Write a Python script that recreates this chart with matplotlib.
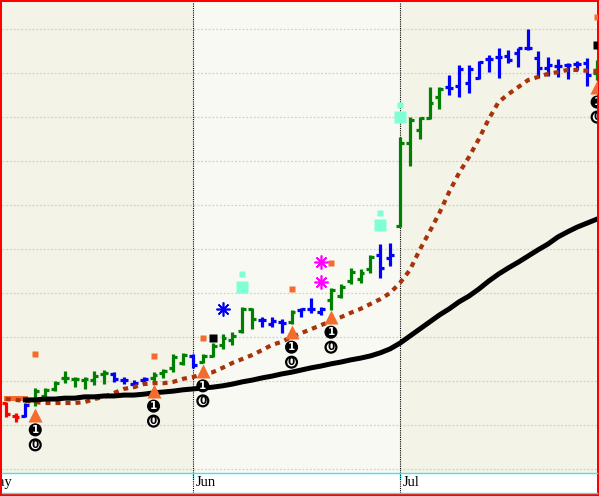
import numpy as np
import matplotlib.pyplot as plt

# daily OHLC bars, late May .. early July (price units, gridline every 1.0)
opens = [11.50, 11.20, 11.20, 11.57, 11.66, 11.82, 12.07, 12.05, 12.02, 12.02,
         12.16, 12.16, 12.02, 11.93, 12.02, 12.07, 12.18, 12.30, 12.41, 12.57,
         12.43, 12.57, 12.82, 12.93, 13.14, 13.64, 13.39, 13.30, 13.34, 13.34,
         13.61, 13.64, 13.57, 13.84, 13.93, 14.27, 14.32, 14.55, 14.86, 14.80,
         15.52, 17.41, 17.70, 17.98, 18.45, 18.68, 18.70, 18.77, 18.89, 19.32,
         19.36, 19.39, 19.45, 19.57, 19.34, 19.11, 19.16, 19.18, 19.20, 19.23,
         19.00]
highs = [11.52, 11.27, 11.50, 11.84, 11.84, 12.00, 12.23, 12.09, 12.09, 12.23,
         12.25, 12.20, 12.09, 12.02, 12.09, 12.20, 12.27, 12.61, 12.64, 12.61,
         12.61, 12.86, 13.07, 13.11, 13.68, 13.66, 13.45, 13.45, 13.41, 13.61,
         13.66, 13.89, 13.68, 14.11, 14.20, 14.57, 14.55, 14.86, 15.11, 15.14,
         17.55, 18.00, 18.00, 18.68, 18.68, 18.95, 19.18, 19.18, 19.27, 19.41,
         19.57, 19.52, 19.57, 20.00, 19.50, 19.36, 19.32, 19.23, 19.27, 19.34,
         19.30]
lows = [11.18, 11.07, 11.18, 11.43, 11.64, 11.77, 11.95, 11.86, 11.82, 11.91,
        11.93, 11.98, 11.93, 11.84, 11.93, 11.95, 12.07, 12.20, 12.36, 12.30,
        12.41, 12.55, 12.73, 12.82, 13.09, 13.18, 13.23, 13.23, 13.09, 13.30,
        13.45, 13.55, 13.50, 13.61, 13.89, 14.20, 14.23, 14.45, 14.34, 14.61,
        15.50, 16.89, 17.50, 17.95, 18.18, 18.50, 18.45, 18.55, 18.86, 19.02,
        18.89, 19.23, 19.14, 19.52, 18.89, 18.93, 18.91, 18.86, 19.07, 18.70,
        18.84]
closes = [11.25, 11.18, 11.45, 11.77, 11.80, 11.95, 12.07, 12.05, 12.05, 12.11,
          12.18, 12.05, 12.02, 11.95, 12.05, 12.14, 12.23, 12.55, 12.59, 12.36,
          12.57, 12.80, 12.98, 13.02, 13.64, 13.41, 13.39, 13.36, 13.32, 13.57,
          13.64, 13.64, 13.64, 14.07, 14.14, 14.48, 14.45, 14.82, 14.57, 14.86,
          17.41, 17.93, 17.98, 18.32, 18.64, 18.66, 19.09, 19.09, 19.25, 19.32,
          19.36, 19.30, 19.57, 19.57, 19.11, 19.18, 19.16, 19.18, 19.20, 18.95,
          19.18]
# impulse colour of each bar: r = down, g = up, b = neutral
impulse = list("rrb" "gggggggg" "bbbb" "gggg" "b" "gggggg" "bbb" "g" "bbb"
               "ggggg" "bb" "ggggg" "bbbbbbbbbbbbbbb" "g")

ema_fast = [11.59, 11.57, 11.55, 11.52, 11.50, 11.50, 11.50, 11.50, 11.52, 11.59,
            11.64, 11.73, 11.82, 11.86, 11.93, 11.95, 11.95, 11.98, 12.05, 12.09,
            12.16, 12.20, 12.30, 12.41, 12.50, 12.59, 12.70, 12.82, 12.89, 13.00,
            13.09, 13.18, 13.27, 13.36, 13.45, 13.55, 13.64, 13.75, 13.86, 14.00,
            14.23, 14.52, 14.98, 15.39, 15.82, 16.30, 16.73, 17.09, 17.50, 17.95,
            18.34, 18.52, 18.68, 18.84, 18.91, 18.98, 19.02, 19.07, 19.07, 19.05,
            19.05]
sma_start = 2
sma_slow = [11.57, 11.57, 11.59, 11.59, 11.61, 11.61, 11.64, 11.64, 11.66, 11.66,
            11.68, 11.68, 11.70, 11.73, 11.75, 11.77, 11.80, 11.82, 11.84, 11.86,
            11.89, 11.93, 11.98, 12.02, 12.07, 12.11, 12.16, 12.20, 12.25, 12.30,
            12.34, 12.39, 12.43, 12.48, 12.52, 12.57, 12.64, 12.73, 12.86, 13.02,
            13.18, 13.34, 13.50, 13.64, 13.80, 13.93, 14.09, 14.27, 14.43, 14.57,
            14.70, 14.84, 14.98, 15.11, 15.27, 15.39, 15.50, 15.59, 15.68]
stop_level = [11.61, 11.61, 11.61]

# signals
buy_bars = [3, 15, 20, 29, 33, 60]
buy_price = [11.23, 11.77, 12.23, 13.11, 13.45, 18.68]
tag_price = [12.61, 12.57, 12.98, 14.09, 14.68, 20.27]
block_bars = [21, 60]
block_price = [12.98, 19.64]
gap_bars = [24, 38, 40]
gap_small = [14.43, 15.82, 18.27]
gap_large = [14.14, 15.55, 18.00]
star_blue = ([22], [13.64])
star_pink = ([32, 32], [14.70, 14.25])

months = ['May', 'Jun', 'Jul']
month_starts = [-2.3, 19, 40]

W, H = 599, 496
fig = plt.figure(figsize=(W / 100, H / 100), dpi=100, facecolor='#ff0000')
ax = fig.add_axes([2 / W, 23 / H, 595 / W, 471 / H])
strip = fig.add_axes([2 / W, 3 / H, 595 / W, 20 / H])
xlim = (-0.375, 59.99)

x = np.arange(len(opens))
ax.set_facecolor('#f4f3e7')
for s in ax.spines.values():
    s.set_visible(False)
ax.set_xticks([])
ax.set_yticks([])
ax.set_xlim(xlim)
ax.set_ylim(9.909, 20.614)

ax.axvspan(month_starts[1], month_starts[2], color='#f9f9f4', lw=0, zorder=0)
for g in range(10, 21):
    ax.axhline(g, color='#d3d3c3', lw=0.9, ls=(0, (1.5, 1.5)), zorder=1)
for m in month_starts[1:]:
    ax.axvline(m, color='black', lw=0.8, ls=(0, (1, 1)), zorder=2)

cmap = {'r': '#ff0000', 'g': '#008000', 'b': '#0000ff'}
cols = [cmap[c] for c in impulse]
ax.vlines(x, lows, highs, colors=cols, lw=2.3, capstyle='butt', zorder=3)
ax.hlines(opens, x - 0.4, x, colors=cols, lw=2.3, capstyle='butt', zorder=3)
ax.hlines(closes, x, x + 0.4, colors=cols, lw=2.3, capstyle='butt', zorder=3)

ax.plot(range(len(stop_level)), stop_level, color='#f26d2d', lw=3.6, zorder=4)
ax.plot(x, ema_fast, color='#a8320a', lw=3, ls=(0, (1.2, 1.2)), zorder=4)
ax.plot(range(sma_start, sma_start + len(sma_slow)), sma_slow, color='black',
        lw=3.6, solid_capstyle='projecting', zorder=5)

ax.plot(buy_bars, buy_price, ls='none', marker='^', ms=10, color='#f26d2d',
        mec='none', zorder=6)
ax.plot(buy_bars, tag_price, ls='none', marker='s', ms=4.3, color='#f26d2d',
        mec='none', zorder=6)
ax.plot(block_bars, block_price, ls='none', marker='s', ms=5.8, color='black',
        mec='none', zorder=6)
ax.plot(gap_bars, gap_large, ls='none', marker='s', ms=8.6, color='#7fffd4',
        mec='none', zorder=6)
ax.plot(gap_bars, gap_small, ls='none', marker='s', ms=5, color='#7fffd4',
        mec='none', zorder=6)
ax.plot(*star_blue, ls='none', marker=(8, 2, 0), ms=10, mew=1.2, color='#0000ff', zorder=6)
ax.plot(*star_pink, ls='none', marker=(8, 2, 0), ms=10, mew=1.2, color='#ff00ff', zorder=6)

# circled "1" (filled) and "0" (ring) under each buy arrow
for b, p in zip(buy_bars, buy_price):
    for txt, dy, fc, tc in (('1', -10.8, 'black', 'white'), ('0', -21.6, 'white', 'black')):
        t = ax.annotate(txt, (b, p), xytext=(0, dy), textcoords='offset points',
                        ha='center', va='center', fontsize=7.5, fontweight='bold', color=tc,
                        bbox=dict(boxstyle='circle,pad=0.04', fc=fc, ec='black', lw=1.6),
                        annotation_clip=False, zorder=7)
        t.set_clip_on(True)
        t.set_clip_path(ax.patch)

# date strip
strip.set_facecolor('white')
for side in ('left', 'right'):
    strip.spines[side].set_visible(False)
for side in ('top', 'bottom'):
    strip.spines[side].set_color('#3de6ea')
    strip.spines[side].set_linewidth(1)
strip.set_yticks([])
strip.set_xticks(month_starts)
strip.tick_params(axis='x', direction='in', top=True, bottom=False, labelbottom=False,
                  length=4, width=1, color='#3de6ea')
strip.set_xlim(xlim)
strip.set_ylim(0, 1)
for m in month_starts[1:]:
    strip.axvline(m, color='black', lw=0.8, ls=(0, (1, 1)), zorder=2)
for name, m in zip(months, month_starts):
    t = strip.annotate(name, (m, 0.35), xycoords=('data', 'axes fraction'),
                       xytext=(2, 0), textcoords='offset points', ha='left', va='baseline',
                       fontsize=10.5, family='Liberation Serif', color='black',
                       annotation_clip=False)
    t.set_clip_on(True)
    t.set_clip_path(strip.patch)

fig.savefig('out.png', dpi=100, facecolor=fig.get_facecolor())
